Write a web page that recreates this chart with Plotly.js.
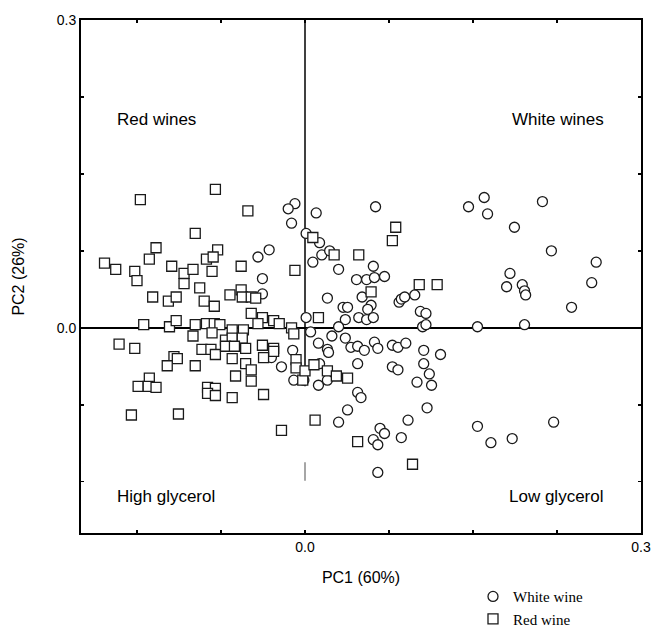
<!DOCTYPE html>
<html>
<head>
<meta charset="utf-8">
<script src="https://cdn.plot.ly/plotly-3.0.1.min.js"></script>
<style>
  html, body { margin: 0; padding: 0; background: #ffffff; }
  #chart { width: 653px; height: 629px; }
</style>
</head>
<body>
<div id="chart"></div>
<script>
// ---- Data (PC scores) ----
const whiteX = [
  -0.009,-0.015,0.010,-0.012,0.063,0.146,0.001,0.013,-0.032,-0.042,
  0.015,0.022,0.007,0.030,0.061,0.046,0.055,0.062,0.071,-0.038,
  -0.038,0.020,0.051,0.059,0.034,0.038,0.056,0.048,0.055,0.061,
  0.084,0.086,0.089,0.098,0.001,0.036,0.103,0.108,0.030,0.105,
  0.108,0.005,0.024,0.036,0.012,0.041,0.047,0.053,0.062,0.065,
  0.078,0.083,0.090,0.020,0.021,0.106,0.121,-0.011,-0.021,-0.030,
  0.047,0.078,0.083,0.106,0.111,0.100,0.113,-0.010,-0.001,0.012,
  0.020,0.047,0.050,0.038,0.030,0.109,0.092,0.067,0.071,0.061,
  0.065,0.086,0.065,0.013,0.160,0.163,0.212,0.187,0.220,0.260,
  0.183,0.180,0.194,0.196,0.197,0.256,0.238,0.154,0.196,0.154,
  0.166,0.185,0.222
];
const whiteY = [
  0.121,0.116,0.112,0.102,0.118,0.118,0.092,0.083,0.076,0.069,
  0.071,0.075,0.064,0.057,0.060,0.047,0.047,0.049,0.050,0.048,
  0.033,0.029,0.030,0.022,0.020,0.020,0.018,0.010,0.008,0.010,
  0.025,0.028,0.030,0.032,0.010,0.008,0.016,0.014,0.001,0.001,
  0.003,-0.004,-0.008,-0.010,-0.015,-0.019,-0.018,-0.022,-0.014,-0.020,
  -0.017,-0.019,-0.015,-0.021,-0.024,-0.022,-0.026,-0.022,-0.038,-0.029,
  -0.035,-0.038,-0.041,-0.035,-0.045,-0.053,-0.056,-0.051,-0.051,-0.056,
  -0.051,-0.063,-0.068,-0.080,-0.092,-0.078,-0.090,-0.098,-0.103,-0.109,
  -0.114,-0.107,-0.141,-0.035,0.127,0.111,0.123,0.098,0.075,0.064,
  0.053,0.040,0.042,0.036,0.032,0.044,0.020,0.001,0.003,-0.096,
  -0.112,-0.108,-0.092
];
const redX = [
  -0.080,-0.147,-0.051,-0.098,-0.133,-0.078,-0.139,-0.088,-0.082,-0.179,
  -0.169,-0.152,-0.150,-0.119,-0.108,-0.100,-0.083,-0.108,-0.094,-0.057,
  -0.009,-0.136,-0.122,-0.115,-0.090,-0.067,-0.057,-0.056,-0.048,-0.044,
  -0.081,-0.048,-0.038,-0.028,-0.023,-0.088,-0.081,-0.076,-0.083,-0.065,
  -0.055,-0.042,-0.012,-0.010,-0.071,-0.065,-0.056,-0.092,-0.084,-0.080,
  -0.071,-0.063,-0.053,-0.038,-0.028,-0.028,-0.065,-0.053,-0.048,-0.037,
  -0.008,-0.008,-0.062,-0.048,-0.002,-0.087,-0.080,-0.087,-0.080,-0.065,
  -0.037,-0.144,-0.121,-0.115,-0.098,-0.100,-0.166,-0.152,-0.117,-0.114,
  -0.123,-0.098,-0.139,-0.149,-0.140,-0.133,-0.155,-0.113,-0.021,0.009,
  0.000,0.008,0.020,0.028,0.038,0.047,0.096,0.081,0.078,0.007,
  0.026,0.048,0.059,0.102,0.118,0.012
];
const redY = [
  0.135,0.125,0.114,0.092,0.078,0.076,0.067,0.067,0.069,0.063,
  0.057,0.055,0.046,0.060,0.053,0.057,0.055,0.043,0.039,0.060,
  0.056,0.030,0.026,0.030,0.026,0.032,0.037,0.030,0.030,0.029,
  0.021,0.014,0.010,0.007,0.004,0.004,0.004,0.003,-0.005,-0.002,
  -0.002,0.004,0.000,-0.006,-0.012,-0.010,-0.010,-0.021,-0.021,-0.026,
  -0.018,-0.018,-0.020,-0.017,-0.020,-0.023,-0.030,-0.035,-0.041,-0.029,
  -0.031,-0.039,-0.047,-0.052,-0.051,-0.058,-0.059,-0.064,-0.066,-0.068,
  -0.065,0.003,0.001,0.007,0.003,-0.008,-0.016,-0.020,-0.028,-0.030,
  -0.037,-0.037,-0.049,-0.057,-0.057,-0.058,-0.085,-0.084,-0.100,-0.090,
  -0.042,-0.036,-0.042,-0.047,-0.049,-0.111,-0.133,0.098,0.085,0.088,
  0.071,0.071,0.035,0.042,0.042,0.010
];
const seriesNames = ['White wine', 'Red wine'];
const tickVals = [-0.15, -0.075, 0, 0.075, 0.15, 0.225, 0.3];
const tickText = ['', '', '0.0', '', '', '', '0.3'];
const quadrantLabels = ['Red wines', 'White wines', 'High glycerol', 'Low glycerol'];
const axisTitles = ['PC1 (60%)', 'PC2 (26%)'];

const sansFont = 'Arial, "Liberation Sans", Helvetica, sans-serif';
const serifFont = '"Times New Roman", "Liberation Serif", serif';

const traces = [
  {
    type: 'scatter', mode: 'markers', name: seriesNames[0],
    x: whiteX, y: whiteY,
    marker: { symbol: 'circle', size: 10, color: '#ffffff', line: { color: '#1a1a1a', width: 1.3 } }
  },
  {
    type: 'scatter', mode: 'markers', name: seriesNames[1],
    x: redX, y: redY,
    marker: { symbol: 'square', size: 10, color: '#ffffff', line: { color: '#1a1a1a', width: 1.3 } }
  }
];

const axisCommon = {
  showgrid: false,
  showline: true, linecolor: '#000000', linewidth: 2, mirror: 'ticks',
  ticks: 'inside', ticklen: 3, tickwidth: 1.5, tickcolor: '#000000',
  tickmode: 'array', tickvals: tickVals, ticktext: tickText,
  tickfont: { family: sansFont, size: 14, color: '#000000' },
  fixedrange: true
};

const labelFont = { family: sansFont, size: 17, color: '#000000' };

const layout = {
  width: 653, height: 629,
  margin: { l: 81, r: 12, t: 20, b: 96, autoexpand: false },
  paper_bgcolor: '#ffffff', plot_bgcolor: '#ffffff',
  showlegend: true,
  legend: {
    x: 0.70, y: -0.092, xanchor: 'left', yanchor: 'top',
    font: { family: serifFont, size: 15, color: '#000000' },
    tracegroupgap: 0, itemwidth: 30, bgcolor: 'rgba(0,0,0,0)'
  },
  xaxis: Object.assign({}, axisCommon, {
    range: [-0.2, 0.3], zeroline: false,
    title: { text: axisTitles[0], font: { family: sansFont, size: 16, color: '#000000' }, standoff: 18 }
  }),
  yaxis: Object.assign({}, axisCommon, {
    range: [-0.2, 0.3], zeroline: true, zerolinecolor: '#000000', zerolinewidth: 1.5,
    title: { text: axisTitles[1], font: { family: sansFont, size: 16, color: '#000000' }, standoff: 28 }
  }),
  shapes: [
    { type: 'line', xref: 'x', yref: 'y', x0: 0, x1: 0, y0: 0.3, y1: -0.057, layer: 'below',
      line: { color: '#000000', width: 1.5 } },
    { type: 'line', xref: 'x', yref: 'y', x0: 0, x1: 0, y0: -0.131, y1: -0.149, layer: 'below',
      line: { color: '#888888', width: 1.5 } }
  ],
  annotations: [
    { text: quadrantLabels[0], x: -0.17, y: 0.203, xref: 'x', yref: 'y', xanchor: 'left', yanchor: 'middle', showarrow: false, font: labelFont },
    { text: quadrantLabels[1], x: 0.269, y: 0.203, xref: 'x', yref: 'y', xanchor: 'right', yanchor: 'middle', showarrow: false, font: labelFont },
    { text: quadrantLabels[2], x: -0.17, y: -0.164, xref: 'x', yref: 'y', xanchor: 'left', yanchor: 'middle', showarrow: false, font: labelFont },
    { text: quadrantLabels[3], x: 0.269, y: -0.164, xref: 'x', yref: 'y', xanchor: 'right', yanchor: 'middle', showarrow: false, font: labelFont }
  ]
};

Plotly.newPlot('chart', traces, layout, { staticPlot: true, displayModeBar: false });
</script>
</body>
</html>
